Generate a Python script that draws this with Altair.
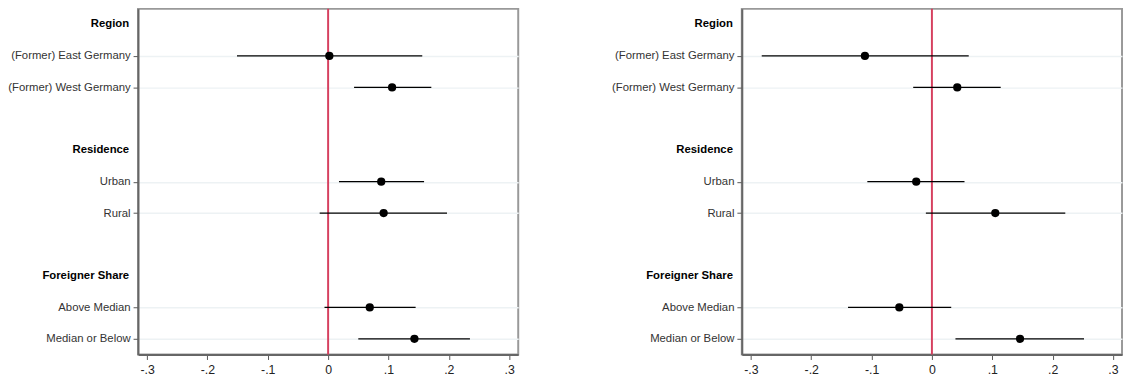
import json
import altair as alt
import pandas as pd

row_labels = ["Region", "(Former) East Germany", "(Former) West Germany", "",
              "Residence", "Urban", "Rural", "",
              "Foreigner Share", "Above Median", "Median or Below"]
header_rows = [0, 4, 8]
item_rows = [1, 2, 5, 6, 9, 10]

left_est = [0.002, 0.106, 0.088, 0.092, 0.069, 0.143]
left_lo = [-0.151, 0.043, 0.018, -0.014, -0.006, 0.050]
left_hi = [0.156, 0.171, 0.159, 0.197, 0.145, 0.235]

right_est = [-0.111, 0.042, -0.026, 0.105, -0.054, 0.146]
right_lo = [-0.282, -0.031, -0.107, -0.010, -0.139, 0.039]
right_hi = [0.061, 0.114, 0.054, 0.221, 0.032, 0.252]

x_ticks = [-0.3, -0.2, -0.1, 0, 0.1, 0.2, 0.3]
x_tick_labels = ["-.3", "-.2", "-.1", "0", ".1", ".2", ".3"]

FONT = "Liberation Sans"


def panel(est, lo, hi):
    df = pd.DataFrame({"row": item_rows, "est": est, "lo": lo, "hi": hi})
    hdr = pd.DataFrame({"row": header_rows,
                        "label": [row_labels[r] for r in header_rows]})
    yscale = alt.Scale(domain=[-0.5, 10.5], reverse=True, nice=False, zero=False)
    xscale = alt.Scale(domain=[-0.315, 0.315], nice=False, zero=False)
    y_axis = alt.Axis(values=item_rows, title=None, grid=True,
                      labelExpr=f"{json.dumps(row_labels)}[round(datum.value)]",
                      labelFontSize=11.5, labelColor="#333333", labelPadding=3,
                      tickSize=5, tickColor="#555555", domainColor="#666666",
                      domainWidth=2, gridColor="#edf2f4", gridWidth=1.5)
    x_axis = alt.Axis(values=x_ticks, title=None, grid=False,
                      labelExpr=f"{json.dumps(x_tick_labels)}[round(datum.value*10)+3]",
                      labelFontSize=12.5, labelColor="#222222", labelPadding=4,
                      tickSize=5, tickColor="#555555", domainColor="#666666",
                      domainWidth=2)
    base = alt.Chart(df)
    zero = alt.Chart(pd.DataFrame({"z": [0]})).mark_rule(
        color="#d6405f", strokeWidth=2).encode(x=alt.X("z:Q", scale=xscale, axis=x_axis))
    rules = base.mark_rule(color="black", strokeWidth=1.3).encode(
        x=alt.X("lo:Q", scale=xscale, axis=x_axis),
        x2="hi:Q",
        y=alt.Y("row:Q", scale=yscale, axis=y_axis))
    points = base.mark_circle(size=70, color="black", opacity=1).encode(
        x=alt.X("est:Q", scale=xscale, axis=x_axis),
        y=alt.Y("row:Q", scale=yscale, axis=y_axis))
    headers = alt.Chart(hdr).mark_text(
        align="right", baseline="middle", fontWeight="bold", fontSize=11.5,
        font=FONT, color="black").encode(
        x=alt.value(-9),
        y=alt.Y("row:Q", scale=yscale, axis=y_axis),
        text="label:N")
    return alt.layer(zero, rules, points, headers).properties(width=386, height=351)


chart = alt.hconcat(
    panel(left_est, left_lo, left_hi),
    panel(right_est, right_lo, right_hi),
    spacing=92,
).properties(
    padding={"left": -2, "top": -4, "right": 0, "bottom": 0}
).configure_view(
    stroke="#999999", strokeWidth=2
).configure_axis(
    labelFont=FONT
)

chart.save("out.html", embed_options={"renderer": "svg", "actions": False})
